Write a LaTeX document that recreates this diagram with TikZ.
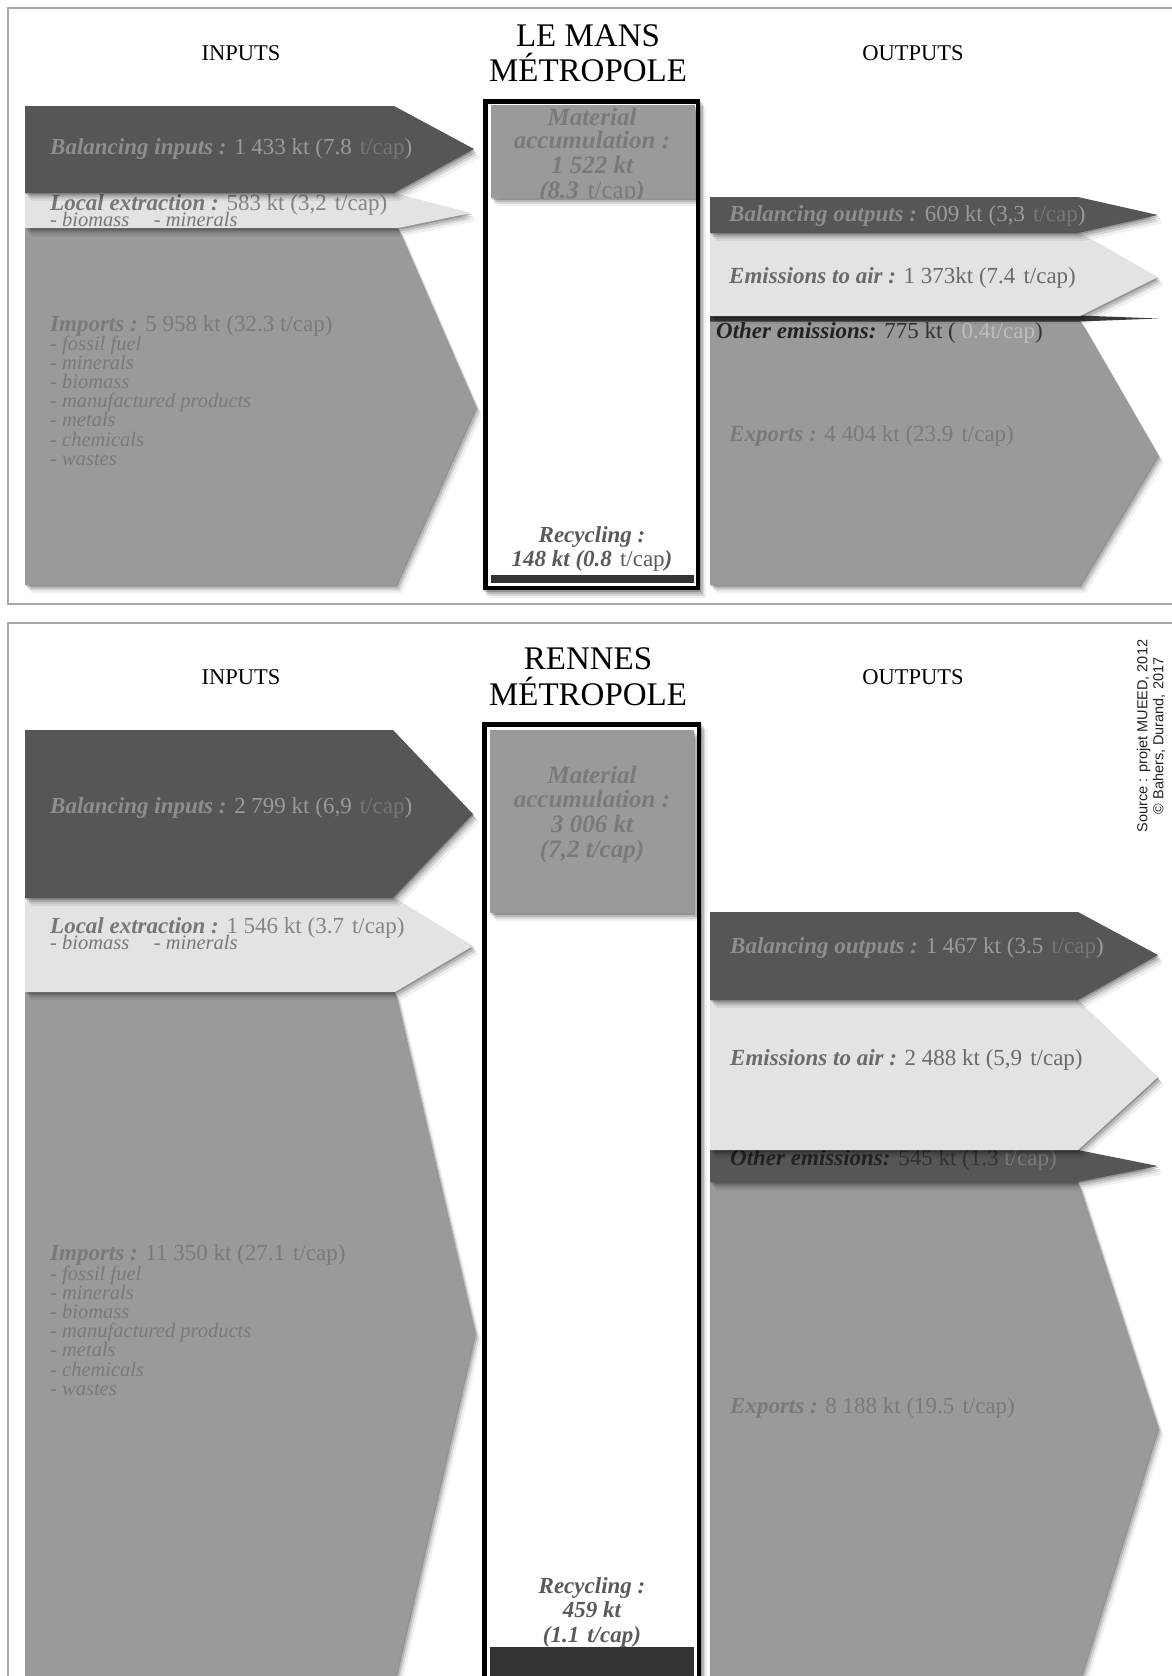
\documentclass[tikz,border=0pt]{standalone}
\usepackage{fontspec}
\setmainfont{Liberation Serif}
\setsansfont{Liberation Sans}
\usetikzlibrary{shadows}
\definecolor{cdark}{HTML}{565656}
\definecolor{clight}{HTML}{E3E3E3}
\definecolor{cmid}{HTML}{9A9A9A}
\definecolor{crec}{HTML}{333333}
\definecolor{cthin}{HTML}{3A3A3A}
\definecolor{cframe}{HTML}{A8A8A8}
\definecolor{tA}{HTML}{8E8E8E}
\definecolor{tB}{HTML}{9A9A9A}
\definecolor{tA2}{HTML}{767676}
\definecolor{tL}{HTML}{777777}
\definecolor{tL2}{HTML}{858585}
\definecolor{tM}{HTML}{7A7A7A}
\definecolor{tE}{HTML}{6A6A6A}
\definecolor{tR}{HTML}{5A5A5A}
\definecolor{tO}{HTML}{222222}
\definecolor{tOl}{HTML}{BDBDBD}
\definecolor{tOm}{HTML}{333333}
\definecolor{tOc}{HTML}{7A7A7A}
\newcommand\bfit[1]{{\bfseries\itshape #1}}
\newcommand\gapp{\hspace{0.35em}}
\begin{document}
\begin{tikzpicture}[x=1pt,y=-1pt,
  softshadow/.style={
    drop shadow={shadow xshift=1pt,shadow yshift=-1.5pt,opacity=.2,fill=black},
    drop shadow={shadow xshift=2.5pt,shadow yshift=-3.5pt,opacity=.14,fill=black},
    drop shadow={shadow xshift=4pt,shadow yshift=-5.5pt,opacity=.1,fill=black},
    drop shadow={shadow xshift=6pt,shadow yshift=-8pt,opacity=.06,fill=black}},
  lab/.style={anchor=base west,inner sep=0pt,font=\fontsize{23}{27}\selectfont},
  lst/.style={anchor=base west,inner sep=0pt,font=\fontsize{20.5}{20}\selectfont\itshape},
  ttl/.style={anchor=base,inner sep=0pt,font=\fontsize{22.5}{27}\selectfont},
  city/.style={anchor=base,inner sep=0pt,font=\fontsize{33}{36}\selectfont},
  mat/.style={anchor=base,inner sep=0pt,font=\fontsize{25}{28}\selectfont\bfseries\itshape,text=tM},
  rec/.style={anchor=base,inner sep=0pt,font=\fontsize{23}{27}\selectfont\bfseries\itshape,text=tR},
  frame/.style={draw=cframe,line width=1.5pt},
  cbox/.style={draw=black,line width=4.5pt}]
\useasboundingbox (0,0) rectangle (1171,1676);
\fill[white] (0,0) rectangle (1171,1676);

% ================= TOP PANEL : LE MANS =================
\draw[frame] (8,8) rectangle (1180,604);
\node[ttl] (inT) at (241,60) {INPUTS};
\node[ttl] (outT) at (913,60) {OUTPUTS};
\node[city] (cityT1) at (588,46.5) {LE MANS};
\node[city] (cityT2) at (588,81.5) {MÉTROPOLE};

% inputs (bottom to top)
\fill[cmid,softshadow] (25,228) -- (398,228) -- (476,407) -- (396,585) -- (25,585) -- cycle;
\node[lab,text=tM] (impT) at (50,331.5) {\bfit{Imports :} 5 958 kt (32.3 t/cap)};
\foreach [count=\i] \t in {fossil fuel,minerals,biomass,manufactured products,metals,chemicals,wastes}
  \node[lst,text=tM] (impTl\i) at (50,{350+19.2*(\i-1)}) {- \t};
\fill[clight,softshadow] (25,193) -- (394,193) -- (471,213) -- (398,228) -- (25,228) -- cycle;
\node[lab,text=tL] (locT) at (50,210) {\bfit{Local extraction :} \textcolor{tL2}{583 kt (3,2\gapp t/cap)}};
\node[lst,text=tL] (locTl) at (50,226) {- biomass\hspace{1.2em}- minerals};
\fill[cdark,softshadow] (25,106) -- (394,106) -- (474,149) -- (394,193) -- (25,193) -- cycle;
\node[lab,text=tA] (balT) at (50,154) {\bfit{Balancing inputs :} \textcolor{tB}{1 433 kt (7.8}\gapp\textcolor{tA2}{t/cap}\textcolor{tB}{)}};

% city box
\fill[white,softshadow] (483,99) rectangle (700,590);
\fill[cmid,softshadow] (491,105) rectangle (695,198);
\fill[crec] (491,575) rectangle (694,583);
\begin{scope}
  \clip (491,105) rectangle (695,198);
  \node[mat] (accT1) at (592,125) {Material};
  \node[mat] (accT2) at (592,148.5) {accumulation :};
  \node[mat] (accT3) at (592,173) {1 522 kt};
  \node[mat] (accT4) at (592,198) {(8.3\gapp{\mdseries\upshape t/cap})};
\end{scope}
\draw[cbox] (485.25,101.25) rectangle (697.75,587.75);
\node[rec] (recT1) at (592,542.5) {Recycling :};
\node[rec] (recT2) at (592,566.5) {148 kt (0.8\gapp{\mdseries\upshape t/cap})};

% outputs (bottom to top)
\fill[cmid,softshadow] (710,320) -- (1080,320) -- (1158,455) -- (1080,585) -- (710,585) -- cycle;
\node[lab,text=tM] (expT) at (729,441.5) {\bfit{Exports :} 4 404 kt (23.9\gapp t/cap)};
\fill[cthin] (710,315.5) -- (1080,315.5) -- (1158,318.5) -- (1080,321.5) -- (710,321.5) -- cycle;
\fill[clight,softshadow] (710,233) -- (1080,233) -- (1158,277) -- (1080,316) -- (710,316) -- cycle;
\node[lab,text=tE] (emiT) at (729,283) {\bfit{Emissions to air :} 1 373kt (7.4\gapp t/cap)};
\fill[cdark,softshadow] (710,197) -- (1078,197) -- (1158,215) -- (1078,233) -- (710,233) -- cycle;
\node[lab,text=tA] (bouT) at (729,221.5) {\bfit{Balancing outputs :} \textcolor{tB}{609 kt (3,3}\gapp\textcolor{tA2}{t/cap}\textcolor{tB}{)}};
\node[lab,text=tO] (othT) at (716,338) {\bfit{Other emissions:} \textcolor{tOm}{775 kt (} \textcolor{tOl}{0.4t/cap}\textcolor{tOm}{)}};

% ================= BOTTOM PANEL : RENNES =================
\draw[frame] (8,623) rectangle (1180,1690);
\node[ttl] (inB) at (241,684) {INPUTS};
\node[ttl] (outB) at (913,684) {OUTPUTS};
\node[city] (cityB1) at (588,669.5) {RENNES};
\node[city] (cityB2) at (588,705) {MÉTROPOLE};
\node[rotate=90,align=center,inner sep=0pt,text=tO,
      font=\sffamily\fontsize{14.5}{16}\selectfont] (src) at (1151,736)
      {Source : projet MUEED, 2012\\© Bahers, Durand, 2017};

% inputs
\fill[cmid,softshadow] (25,992) -- (395,992) -- (475,1333) -- (395,1680) -- (25,1680) -- cycle;
\node[lab,text=tM] (impB) at (50,1260) {\bfit{Imports :} 11 350 kt (27.1\gapp t/cap)};
\foreach [count=\i] \t in {fossil fuel,minerals,biomass,manufactured products,metals,chemicals,wastes}
  \node[lst,text=tM] (impBl\i) at (50,{1280+19.2*(\i-1)}) {- \t};
\fill[clight,softshadow] (25,898) -- (395,898) -- (473,946) -- (395,992) -- (25,992) -- cycle;
\node[lab,text=tL] (locB) at (50,933) {\bfit{Local extraction :} \textcolor{tL2}{1 546 kt (3.7\gapp t/cap)}};
\node[lst,text=tL] (locBl) at (50,949) {- biomass\hspace{1.2em}- minerals};
\fill[cdark,softshadow] (25,730) -- (393,730) -- (473,814) -- (393,898) -- (25,898) -- cycle;
\node[lab,text=tA] (balB) at (50,813) {\bfit{Balancing inputs :} \textcolor{tB}{2 799 kt (6,9}\gapp\textcolor{tA2}{t/cap}\textcolor{tB}{)}};

% city box
\fill[white,softshadow] (482,722) rectangle (701,1690);
\fill[cmid,softshadow] (490,730) rectangle (694,913);
\fill[crec] (490,1647) rectangle (694,1690);
\node[mat] (accB1) at (592,783) {Material};
\node[mat] (accB2) at (592,807) {accumulation :};
\node[mat] (accB3) at (592,832) {3 006 kt};
\node[mat] (accB4) at (592,857) {(7,2 t/cap)};
\draw[cbox] (484.25,724.25) rectangle (698.75,1700);
\node[rec] (recB1) at (592,1593) {Recycling :};
\node[rec] (recB2) at (592,1617) {459 kt};
\node[rec] (recB3) at (592,1642) {(1.1\gapp t/cap)};

% outputs
\fill[cmid,softshadow] (710,1182) -- (1078,1182) -- (1158,1428) -- (1080,1680) -- (710,1680) -- cycle;
\node[lab,text=tM] (expB) at (730,1413) {\bfit{Exports :} 8 188 kt (19.5\gapp t/cap)};
\fill[cdark,softshadow] (710,1150) -- (1078,1150) -- (1158,1166) -- (1078,1182) -- (710,1182) -- cycle;
\node[lab,text=tO] (othB) at (730,1165) {\bfit{Other emissions:} \textcolor{tOm}{545 kt (1.3} \textcolor{tOc}{t/cap)}};
\fill[clight,softshadow] (710,1000) -- (1078,1000) -- (1158,1077) -- (1078,1150) -- (710,1150) -- cycle;
\node[lab,text=tE] (emiB) at (730,1065) {\bfit{Emissions to air :} 2 488 kt (5,9\gapp t/cap)};
\fill[cdark,softshadow] (710,912) -- (1078,912) -- (1158,955) -- (1078,1000) -- (710,1000) -- cycle;
\node[lab,text=tA] (bouB) at (730,953) {\bfit{Balancing outputs :} \textcolor{tB}{1 467 kt (3.5}\gapp\textcolor{tA2}{t/cap}\textcolor{tB}{)}};
\end{tikzpicture}
\end{document}
